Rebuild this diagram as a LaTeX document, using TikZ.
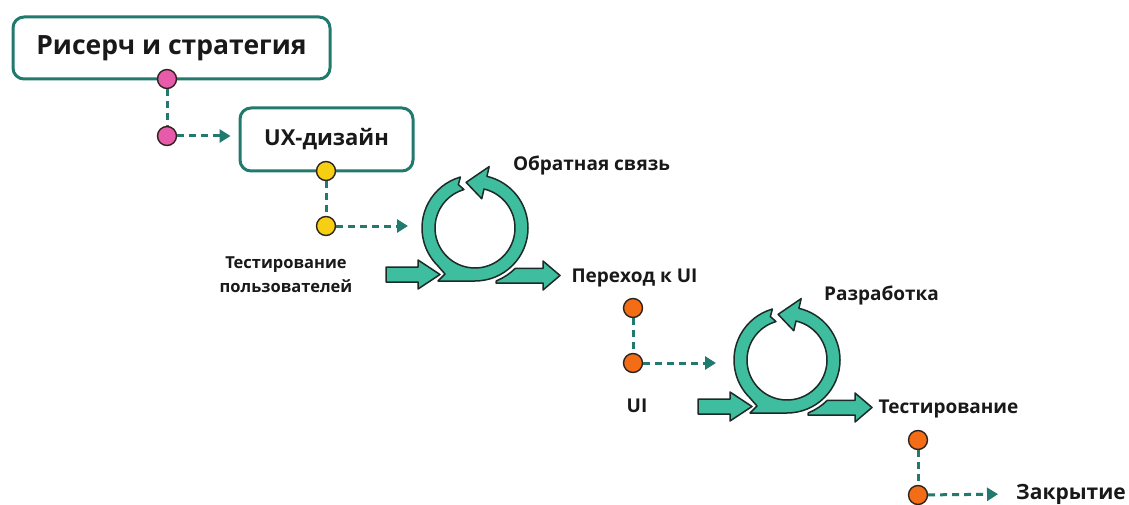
\documentclass[tikz,border=0pt]{standalone}
\usepackage{fontspec}
\setmainfont{Open Sans}
\usetikzlibrary{arrows.meta}

\definecolor{tealdk}{RGB}{34,122,110}
\definecolor{loopfill}{RGB}{62,190,158}
\definecolor{loopline}{RGB}{28,42,40}
\definecolor{pinkdot}{RGB}{232,90,170}
\definecolor{yellowdot}{RGB}{246,206,18}
\definecolor{orangedot}{RGB}{243,108,22}
\definecolor{dotline}{RGB}{45,35,30}
\definecolor{ink}{RGB}{25,25,25}

\tikzset{
  stagebox/.style={draw=tealdk, line width=3pt, rounded corners=11pt, fill=white,
    text=ink, inner sep=0pt},
  dot/.style={circle, draw=dotline, line width=1.4pt, minimum size=19pt, inner sep=0pt},
  conn/.style={draw=tealdk, line width=3pt, dash pattern=on 7pt off 5pt},
  arrowtip/.style={-{Triangle[length=11pt,width=13pt]}},
  looppiece/.style={fill=loopfill, draw=loopline, line width=1.5pt, line join=round},
  lbl/.style={font=\bfseries\fontsize{19}{24}\selectfont, text=ink, inner sep=0pt},
}

% iteration pictogram: entry arrow, open ring with arrowhead, exit arrow
\newcommand\iterloop[1]{%
  \begin{scope}[shift={#1}]
    \filldraw[looppiece] (21,-55) -- (-68:57) arc[start angle=-68, end angle=-45, radius=57]
      -- (68,-40.3) -- (68,-33) -- (85,-47.5) -- (68,-62) -- (68,-55) -- cycle;
    \filldraw[looppiece] (-89,-39) -- (-57,-39) -- (-57,-32) -- (-35,-46.5) -- (-57,-61)
      -- (-57,-54) -- (-89,-54) -- cycle;
    \filldraw[looppiece] (106:53) arc[start angle=106, end angle=225, radius=53]
      -- (-30,-46) -- (-37,-53) -- (0,-53) arc[start angle=-90, end angle=77, radius=53]
      -- (77:63) -- (101:46.5) -- (77:30) -- (77:40)
      arc[start angle=77, end angle=-254, radius=40] -- (111:46.5) -- cycle;
  \end{scope}}

\begin{document}
\begin{tikzpicture}[x=1pt,y=1pt]
  \useasboundingbox (0,0) rectangle (1129,-505);
  \fill[white] (0,0) rectangle (1129,-505);

  % stages in boxes
  \node[stagebox, minimum width=317pt, minimum height=62pt,
        font=\bfseries\fontsize{26.5}{32}\selectfont] (research) at (171.5,-48) {Рисерч и стратегия};
  \node[stagebox, minimum width=173pt, minimum height=63pt,
        font=\bfseries\fontsize{22}{27}\selectfont] (ux) at (326.5,-139.5) {UX-дизайн};

  % iteration loops
  \iterloop{(475,-228)}
  \iterloop{(787,-360)}

  % labels
  \node[lbl] (feedback) at (591.5,-165) {Обратная связь};
  \node[lbl, align=center, font=\bfseries\fontsize{16.5}{24}\selectfont] (usertest) at (286,-275) {Тестирование\\пользователей};
  \node[lbl] (toui) at (634.5,-278) {Переход к UI};
  \node[lbl] (ui) at (637,-406) {UI};
  \node[lbl] (dev) at (881.5,-295) {Разработка};
  \node[lbl] (testing) at (948.5,-409) {Тестирование};
  \node[lbl, anchor=west, font=\bfseries\fontsize{21}{26}\selectfont] (closing) at (1016,-494) {Закрытие};

  % junction dots
  \node[dot, fill=pinkdot] (p1) at (167,-79) {};
  \node[dot, fill=pinkdot] (p2) at (167,-136) {};
  \node[dot, fill=yellowdot] (y1) at (326,-171) {};
  \node[dot, fill=yellowdot] (y2) at (326,-226) {};
  \node[dot, fill=orangedot] (o1) at (633,-308) {};
  \node[dot, fill=orangedot] (o2) at (633,-363) {};
  \node[dot, fill=orangedot] (o3) at (918,-440) {};
  \node[dot, fill=orangedot] (o4) at (918,-495) {};

  \coordinate (loopAin) at (408,-226);
  \coordinate (loopBin) at (716,-363);

  % dashed connectors
  \draw[conn] (p1) -- (p2);
  \draw[conn, arrowtip, shorten >=8pt] (p2) -- (p2 -| ux.west);
  \draw[conn] (y1) -- (y2);
  \draw[conn, arrowtip] (y2) -- (loopAin);
  \draw[conn] (o1) -- (o2);
  \draw[conn, arrowtip] (o2) -- (loopBin);
  \draw[conn] (o3) -- (o4);
  \draw[conn, arrowtip, shorten >=18pt] (o4) -- (closing.west);
\end{tikzpicture}
\end{document}
